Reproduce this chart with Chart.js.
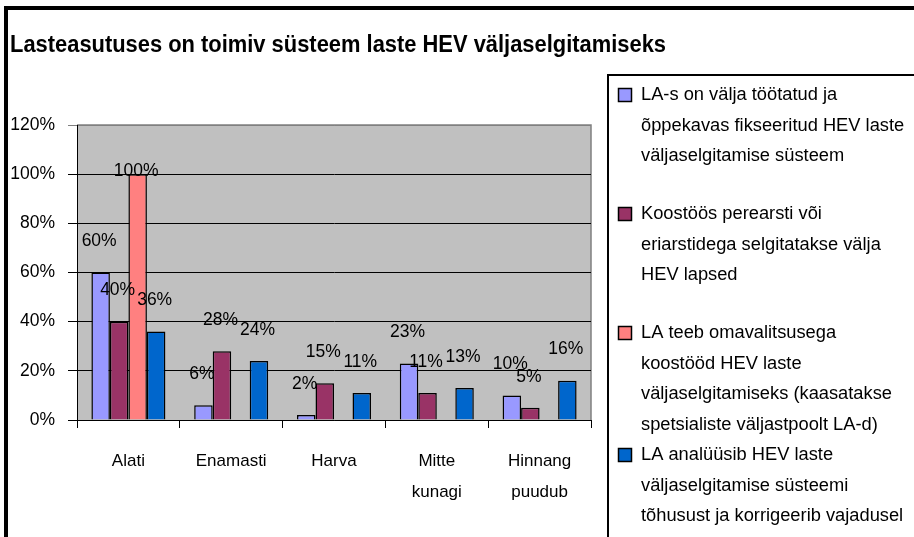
<!DOCTYPE html>
<html>
<head>
<meta charset="utf-8">
<script src="https://cdn.jsdelivr.net/npm/chart.js@4.4.1/dist/chart.umd.min.js"></script>
<style>
  html, body { margin: 0; padding: 0; background: #fff; }
  #wrap { width: 914px; height: 537px; }
</style>
</head>
<body>
<div id="wrap"><canvas id="c" width="914" height="537"></canvas></div>
<script>
// ---- data ----
const chartTitle = "Lasteasutuses on toimiv süsteem laste HEV väljaselgitamiseks";
const categories = ["Alati", "Enamasti", "Harva", ["Mitte", "kunagi"], ["Hinnang", "puudub"]];
const yTicks = [0, 20, 40, 60, 80, 100, 120];

const series1Lines = ["LA-s on välja töötatud ja", "õppekavas fikseeritud HEV laste", "väljaselgitamise süsteem"];
const series2Lines = ["Koostöös perearsti või", "eriarstidega selgitatakse välja", "HEV lapsed"];
const series3Lines = ["LA teeb omavalitsusega", "koostööd HEV laste", "väljaselgitamiseks (kaasatakse", "spetsialiste väljastpoolt LA-d)"];
const series4Lines = ["LA analüüsib HEV laste", "väljaselgitamise süsteemi", "tõhusust ja korrigeerib vajadusel"];

const series1 = [60, 6, 2, 23, 10];
const series2 = [40, 28, 15, 11, 5];
const series3 = [100, null, null, null, null];
const series4 = [36, 24, 11, 13, 16];

const colors = ["#9999FF", "#993366", "#FF8080", "#0066CC"];
const FONT = "'Liberation Sans', Arial, sans-serif";

const seriesLines = [series1Lines, series2Lines, series3Lines, series4Lines];
const seriesData = [series1, series2, series3, series4];

const datasets = seriesData.map((d, i) => ({
  label: seriesLines[i].join(" "),
  data: d,
  backgroundColor: colors[i],
  borderColor: "#000",
  borderWidth: 1.5,
  categoryPercentage: 0.72,
  barPercentage: 1.0
}));

const decorPlugin = {
  id: "decor",
  beforeDraw(chart) {
    const { ctx, chartArea: a } = chart;
    ctx.save();
    ctx.fillStyle = "#C0C0C0";
    ctx.fillRect(a.left, a.top, a.right - a.left, a.bottom - a.top);
    ctx.strokeStyle = "#808080";
    ctx.lineWidth = 1.5;
    ctx.beginPath();
    ctx.moveTo(a.left, a.top);
    ctx.lineTo(a.right, a.top);
    ctx.lineTo(a.right, a.bottom);
    ctx.stroke();
    ctx.restore();
  },
  afterDatasetsDraw(chart) {
    const { ctx, chartArea: a } = chart;
    ctx.save();
    ctx.font = "17.5px " + FONT;
    ctx.fillStyle = "#000";
    ctx.textAlign = "center";
    ctx.textBaseline = "middle";
    chart.data.datasets.forEach((ds, i) => {
      const meta = chart.getDatasetMeta(i);
      meta.data.forEach((bar, j) => {
        const v = ds.data[j];
        if (v === null || v === undefined) return;
        let y = bar.y - 31;
        if (y < a.top + 30) y = bar.y - 3;
        ctx.fillText(v + "%", bar.x - 1.5, y);
      });
    });
    ctx.restore();
  },
  afterDraw(chart) {
    const { ctx } = chart;
    ctx.save();
    // title (condensed to the reference width)
    ctx.font = "bold 23px " + FONT;
    ctx.fillStyle = "#000";
    ctx.textAlign = "left";
    ctx.textBaseline = "middle";
    ctx.fillText(chartTitle, 10, 46, 656);
    // legend box
    ctx.strokeStyle = "#000";
    ctx.lineWidth = 2;
    ctx.strokeRect(608, 75, 400, 600);
    // legend items
    ctx.font = "18.3px " + FONT;
    const starts = [95, 214, 333, 455];
    const lh = 30.7;
    chart.data.datasets.forEach((ds, i) => {
      const y0 = starts[i];
      ctx.fillStyle = ds.backgroundColor;
      ctx.fillRect(618.5, y0 - 6.5, 13, 13);
      ctx.lineWidth = 1.5;
      ctx.strokeStyle = "#000";
      ctx.strokeRect(618.5, y0 - 6.5, 13, 13);
      ctx.fillStyle = "#000";
      seriesLines[i].forEach((t, k) => ctx.fillText(t, 641, y0 + k * lh));
    });
    // outer frame
    ctx.lineWidth = 4;
    ctx.strokeStyle = "#000";
    ctx.strokeRect(6, 8, 1200, 1200);
    ctx.restore();
  }
};

new Chart(document.getElementById("c"), {
  type: "bar",
  data: { labels: categories, datasets },
  plugins: [decorPlugin],
  options: {
    responsive: false,
    animation: false,
    devicePixelRatio: 1,
    layout: { padding: { left: 10, right: 323, top: 125, bottom: 0 } },
    plugins: {
      legend: { display: false },
      tooltip: { enabled: false },
      title: { display: false }
    },
    scales: {
      x: {
        afterFit: (s) => { s.height = 117; },
        grid: { display: true, drawOnChartArea: false, drawTicks: true, tickLength: 8, color: "#000", offset: true },
        border: { display: true, color: "#000", width: 1 },
        ticks: { color: "#000", font: { family: FONT, size: 17, lineHeight: 1.8 }, padding: 18, maxRotation: 0, autoSkip: false }
      },
      y: {
        min: 0,
        max: 120,
        afterFit: (s) => { s.width = 67; },
        afterBuildTicks: (s) => { s.ticks = yTicks.map(v => ({ value: v })); },
        grid: {
          color: (c) => (c.tick && c.tick.value === 120 ? "#808080" : "#000"),
          tickLength: 9,
          lineWidth: 1
        },
        border: { display: true, color: "#000", width: 1 },
        ticks: { color: "#000", font: { family: FONT, size: 17.5 }, padding: 13, callback: (v) => v + "%" }
      }
    }
  }
});
</script>
</body>
</html>
